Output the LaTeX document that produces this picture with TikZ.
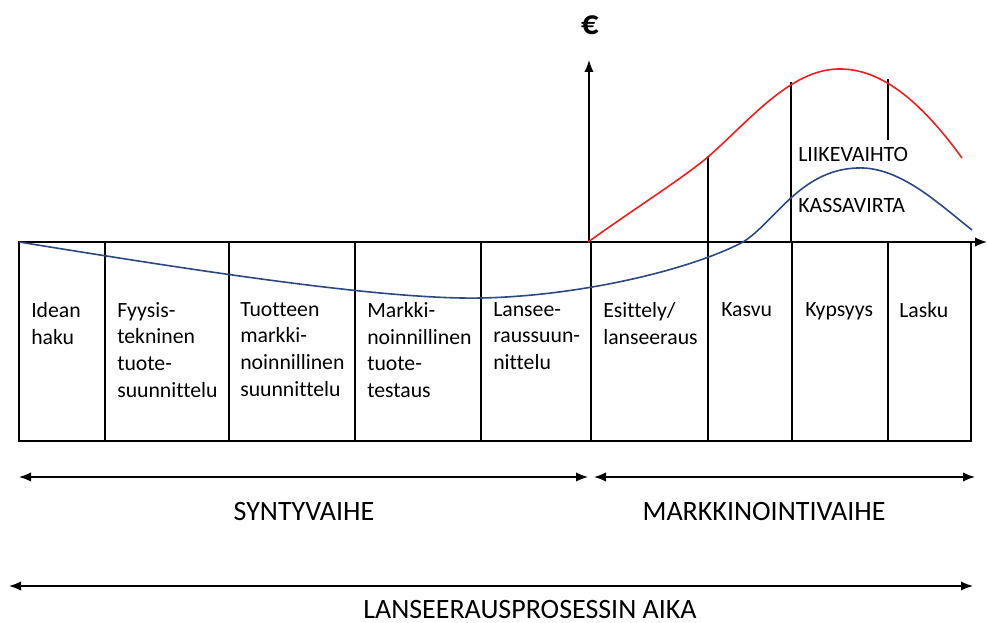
\documentclass[tikz,border=0pt]{standalone}
\usepackage{fontspec}
\setmainfont{Carlito}[Ligatures=CommonOff]
\usetikzlibrary{arrows.meta}
\definecolor{curvered}{HTML}{F01E1E}
\definecolor{curveblue}{HTML}{2C4A80}
\begin{document}
\begin{tikzpicture}[x=0.75pt,y=-0.75pt,
  ln/.style={line width=1.1pt},
  thin line/.style={line width=0.9pt},
  tip/.style={-{Latex[length=9pt,width=7pt]}},
  dtip/.style={{Latex[length=9pt,width=7pt]}-{Latex[length=9pt,width=7pt]}},
  cell/.style={anchor=north west,inner sep=0pt,align=left,font=\fontsize{16.3}{20}\selectfont},
  lab/.style={anchor=base west,inner sep=0pt,font=\fontsize{16.4}{20}\selectfont},
  phase/.style={anchor=base,inner sep=0pt,font=\fontsize{21}{25}\selectfont}]
\useasboundingbox (0,0) rectangle (987,623);
% coordinates
\coordinate (o) at (19,242);
\coordinate (xend) at (987,242);
\coordinate (ybase) at (589,242);
\coordinate (ytop) at (589,60);
% table
\draw[thin line] (19,242) rectangle (971,441);
\foreach \x in {105,229,355,481,591,708,792,888}
  \draw[thin line] (\x,242) -- (\x,441);
% axes
\draw[ln,tip] (o) -- (xend);
\draw[ln,tip] (ybase) -- (ytop);
\node[inner sep=0pt,font=\fontsize{26}{28}\selectfont\bfseries] (euro) at (590,25) {€};
% vertical markers
\coordinate (m1b) at (708,242); \coordinate (m1t) at (708,156);
\coordinate (m2b) at (791,242); \coordinate (m2t) at (791,82);
\coordinate (m3b) at (888,140); \coordinate (m3t) at (888,79);
\draw[thin line] (m1b) -- (m1t);
\draw[thin line] (m2b) -- (m2t);
\draw[thin line] (m3b) -- (m3t);
% red curve
\draw[curvered,line width=1.2pt] (588,242) .. controls (640,205) and (680,180) .. (708,157)
  .. controls (750,120) and (790,70) .. (838,69)
  .. controls (880,68) and (920,100) .. (962,158);
% blue curve
\draw[curveblue,line width=1.2pt] (19,242) .. controls (180,268) and (380,300) .. (481,298)
  .. controls (580,296) and (690,270) .. (743,242)
  .. controls (775,222) and (800,170) .. (857,168)
  .. controls (900,166) and (940,205) .. (972,230);
% labels
\node[lab] (liike) at (798,162) {LIIKEVAIHTO};
\node[lab] (kassa) at (798,213) {KASSAVIRTA};
% cell texts
\node[cell] (c1) at (31,302) {Idean\\haku};
\node[cell] (c2) at (117,302) {Fyysis-\\tekninen\\tuote-\\suunnittelu};
\node[cell] (c3) at (240,302) {Tuotteen\\markki-\\noinnillinen\\suunnittelu};
\node[cell] (c4) at (367,302) {Markki-\\noinnillinen\\tuote-\\testaus};
\node[cell] (c5) at (493,302) {Lansee-\\raussuun-\\nittelu};
\node[cell] (c6) at (603,302) {Esittely/\\lanseeraus};
\node[cell] (c7) at (721,302) {Kasvu};
\node[cell] (c8) at (805,302) {Kypsyys};
\node[cell] (c9) at (899,302) {Lasku};
% phase arrows
\coordinate (a1l) at (19,477); \coordinate (a1r) at (588,477);
\coordinate (a2l) at (594,477); \coordinate (a2r) at (975,477);
\coordinate (a3l) at (9,586); \coordinate (a3r) at (973,586);
\draw[ln,dtip] (a1l) -- (a1r);
\draw[ln,dtip] (a2l) -- (a2r);
\draw[ln,dtip] (a3l) -- (a3r);
\node[phase] (synty) at (304,520) {SYNTYVAIHE};
\node[phase] (markk) at (764,520) {MARKKINOINTIVAIHE};
\node[phase] (lans) at (530,618) {LANSEERAUSPROSESSIN AIKA};
\end{tikzpicture}
\end{document}
